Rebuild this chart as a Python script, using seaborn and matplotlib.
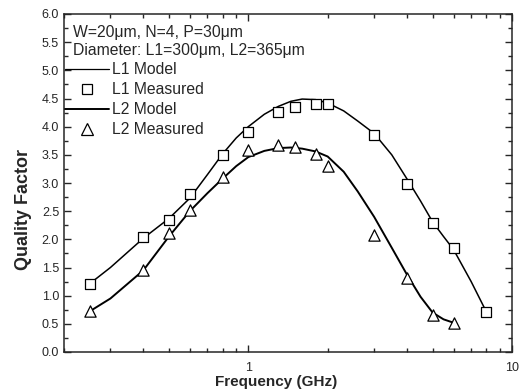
import matplotlib
matplotlib.use("Agg")
import matplotlib.pyplot as plt
import seaborn as sns
import pandas as pd
from matplotlib.lines import Line2D
from matplotlib.ticker import MultipleLocator, NullFormatter, LogLocator

# Measured data
l1_freq = [0.25, 0.4, 0.5, 0.6, 0.8, 1.0, 1.3, 1.5, 1.8, 2.0, 3.0, 4.0, 5.0, 6.0, 8.0]
l1_q = [1.21, 2.04, 2.35, 2.80, 3.50, 3.91, 4.26, 4.35, 4.40, 4.40, 3.85, 2.98, 2.29, 1.85, 0.71]
l2_freq = [0.25, 0.4, 0.5, 0.6, 0.8, 1.0, 1.3, 1.5, 1.8, 2.0, 3.0, 4.0, 5.0, 6.0]
l2_q = [0.72, 1.46, 2.11, 2.52, 3.11, 3.59, 3.68, 3.64, 3.52, 3.30, 2.08, 1.31, 0.66, 0.52]

# Model curves
m1_freq = [0.25, 0.3, 0.4, 0.5, 0.6, 0.7, 0.8, 0.9, 1.0, 1.15, 1.3, 1.45, 1.6, 1.8, 2.0, 2.3, 2.6, 3.0, 3.5, 4.0, 4.5, 5.0, 5.5, 6.0, 7.0, 8.0]
m1_q = [1.21, 1.5, 2.02, 2.37, 2.73, 3.15, 3.52, 3.80, 4.00, 4.22, 4.36, 4.45, 4.49, 4.48, 4.42, 4.28, 4.10, 3.88, 3.50, 3.07, 2.68, 2.31, 2.05, 1.82, 1.25, 0.71]
m2_freq = [0.25, 0.3, 0.4, 0.5, 0.6, 0.7, 0.8, 0.9, 1.0, 1.15, 1.3, 1.45, 1.6, 1.8, 2.0, 2.3, 2.6, 3.0, 3.5, 4.0, 4.5, 5.0, 5.5, 6.0]
m2_q = [0.72, 0.95, 1.45, 2.05, 2.50, 2.82, 3.08, 3.30, 3.46, 3.57, 3.62, 3.63, 3.61, 3.56, 3.47, 3.20, 2.85, 2.40, 1.85, 1.37, 0.98, 0.70, 0.58, 0.52]

sns.set_style("ticks")
plt.rcParams['font.family'] = ['Liberation Sans', 'DejaVu Sans']

fig = plt.figure(figsize=(5.26, 3.92), dpi=100)
ax = fig.add_axes([64/526, 1-352/392, (512-64)/526, (352-14)/392])

df_m1 = pd.DataFrame({"f": m1_freq, "q": m1_q})
df_m2 = pd.DataFrame({"f": m2_freq, "q": m2_q})
df_l1 = pd.DataFrame({"f": l1_freq, "q": l1_q})
df_l2 = pd.DataFrame({"f": l2_freq, "q": l2_q})

sns.lineplot(data=df_m1, x="f", y="q", ax=ax, color="black", lw=1.1, sort=False)
sns.lineplot(data=df_m2, x="f", y="q", ax=ax, color="black", lw=1.4, sort=False)
sns.scatterplot(data=df_l1, x="f", y="q", ax=ax, marker="s", s=42, facecolor="white",
                edgecolor="black", linewidth=0.9, zorder=3)
sns.scatterplot(data=df_l2, x="f", y="q", ax=ax, marker="^", s=66, facecolor="white",
                edgecolor="black", linewidth=0.9, zorder=3)

ax.set_xscale("log")
ax.set_xlim(0.2, 10)
ax.set_ylim(0, 6)
ax.set_xticks([1, 10])
ax.set_xticklabels(["1", "10"])
ax.xaxis.set_minor_locator(LogLocator(base=10, subs=range(2, 10)))
ax.xaxis.set_minor_formatter(NullFormatter())
ax.yaxis.set_major_locator(MultipleLocator(0.5))
ax.yaxis.set_minor_locator(MultipleLocator(0.25))
ax.set_yticklabels([f"{v:.1f}" for v in ax.get_yticks()])

ax.tick_params(which="both", direction="in", top=True, right=True, labelsize=9, width=1)
ax.tick_params(axis="x", which="both", pad=7)
ax.tick_params(which="major", length=5)
ax.tick_params(which="minor", length=3)
for s in ax.spines.values():
    s.set_linewidth(1.1)

ax.set_xlabel("Frequency (GHz)", fontsize=11, fontweight="bold")
ax.set_ylabel("Quality Factor", fontsize=13, fontweight="bold")
ax.xaxis.set_label_coords(0.473, -0.067)
ax.yaxis.set_label_coords(-0.072, 0.423)

ax.text(0.02, 0.945, "W=20\u03bcm, N=4, P=30\u03bcm", transform=ax.transAxes, fontsize=11.3, va="center")
ax.text(0.02, 0.892, "Diameter: L1=300\u03bcm, L2=365\u03bcm", transform=ax.transAxes, fontsize=11.3, va="center")

handles = [
    Line2D([], [], color="black", lw=0.9),
    Line2D([], [], color="black", marker="s", ls="", markersize=6.5, markerfacecolor="white", markeredgewidth=0.9),
    Line2D([], [], color="black", lw=1.4),
    Line2D([], [], color="black", marker="^", ls="", markersize=8, markerfacecolor="white", markeredgewidth=0.9),
]
labels = ["L1 Model", "L1 Measured", "L2 Model", "L2 Measured"]
ax.legend(handles, labels, loc="upper left", bbox_to_anchor=(-0.004, 0.866), frameon=False,
          fontsize=11.3, handlelength=2.75, handletextpad=0.2, labelspacing=0.32, borderaxespad=0,
          borderpad=0.2)

fig.savefig("out.png", dpi=100)
